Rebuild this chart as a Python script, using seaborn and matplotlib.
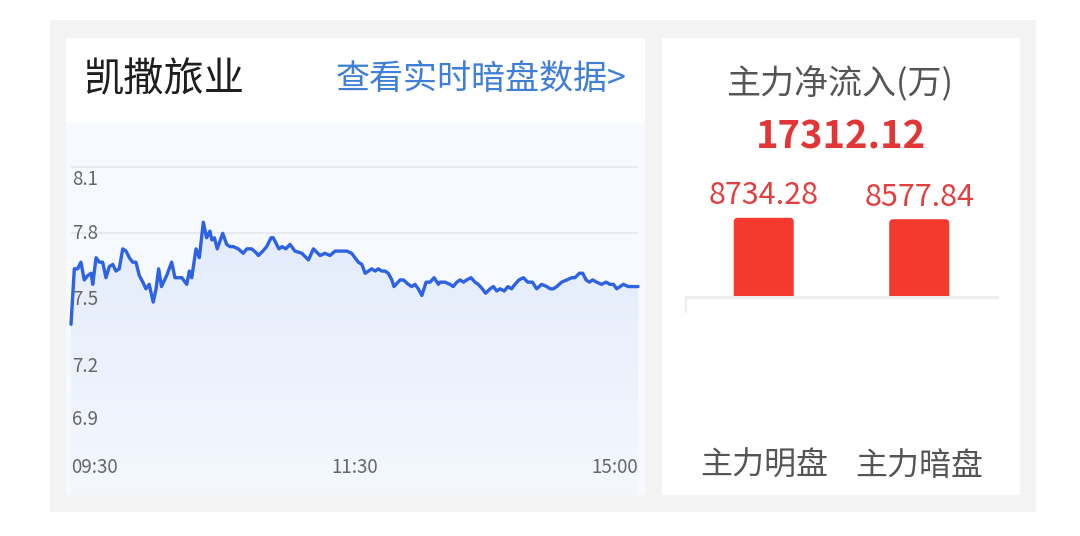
import numpy as np
import pandas as pd
import matplotlib.pyplot as plt
import seaborn as sns
from matplotlib.patches import Rectangle, FancyBboxPatch
from matplotlib.colors import LinearSegmentedColormap

# ---- data ----
stock_name = "凯撒旅业"
link_text = "查看实时暗盘数据>"
time_ticks = [0, 120, 240]
time_labels = ["09:30", "11:30", "15:00"]
price_ticks = [8.1, 7.8, 7.5, 7.2, 6.9]

minutes = [
    0.0, 1.4, 2.8, 4.2, 5.6, 7.1, 8.5, 9.2, 10.6, 12.0, 13.4, 14.8, 16.2, 17.7,
    19.0, 20.4, 21.9, 23.3, 24.7, 26.1, 27.5, 28.9, 30.4, 31.7, 33.1, 34.8, 36.0,
    37.1, 38.3, 40.5, 42.6, 44.0, 45.4, 46.9, 49.0, 50.1, 51.1, 52.9, 54.3, 56.0,
    57.4, 58.8, 59.6, 60.7, 61.9, 64.2, 65.9, 67.3, 68.7, 70.8, 72.9, 74.4, 76.5,
    78.6, 79.3, 81.2, 82.8, 84.7, 85.6, 88.0, 89.4, 90.9, 92.7, 94.8, 97.7, 100.5,
    102.6, 105.4, 107.5, 109.6, 111.8, 113.2, 114.6, 116.7, 118.8, 120.2, 121.6,
    123.1, 124.5, 125.9, 127.3, 128.7, 130.1, 131.5, 132.9, 134.3, 135.8, 136.7,
    139.3, 140.7, 142.8, 144.2, 145.6, 147.0, 148.5, 150.3, 152.0, 153.7, 155.5,
    156.2, 158.3, 160.4, 161.8, 163.3, 164.7, 166.1, 167.5, 169.3, 171.0, 172.4,
    174.1, 175.5, 177.4, 178.8, 180.2, 181.6, 183.4, 184.9, 186.5, 187.9, 189.6,
    191.5, 193.3, 195.3, 197.1, 199.2, 201.4, 202.8, 204.2, 205.6, 207.7, 209.8,
    212.0, 213.3, 215.2, 216.6, 218.0, 219.4, 220.8, 222.5, 224.6, 226.5, 228.1,
    229.6, 231.0, 232.4, 233.8, 235.9, 238.0, 240.0,
]
prices = [
    7.39, 7.64, 7.64, 7.67, 7.59, 7.61, 7.62, 7.57, 7.69, 7.67, 7.67, 7.60, 7.65, 7.66,
    7.63, 7.64, 7.73, 7.72, 7.69, 7.67, 7.67, 7.61, 7.58, 7.55, 7.57, 7.49, 7.55,
    7.64, 7.56, 7.61, 7.67, 7.60, 7.60, 7.60, 7.57, 7.63, 7.60, 7.73, 7.69, 7.85,
    7.78, 7.81, 7.77, 7.78, 7.73, 7.80, 7.75, 7.74, 7.74, 7.73, 7.71, 7.73, 7.73,
    7.71, 7.70, 7.72, 7.74, 7.78, 7.78, 7.73, 7.74, 7.73, 7.75, 7.72, 7.71, 7.68,
    7.73, 7.70, 7.71, 7.70, 7.72, 7.72, 7.72, 7.72, 7.71, 7.69, 7.67,
    7.66, 7.62, 7.63, 7.64, 7.63, 7.64, 7.63, 7.63, 7.62, 7.59, 7.56,
    7.59, 7.59, 7.57, 7.56, 7.57, 7.55, 7.52, 7.58, 7.58, 7.60, 7.57,
    7.58, 7.58, 7.57, 7.56, 7.58, 7.59, 7.58, 7.59, 7.60, 7.58, 7.57,
    7.55, 7.53, 7.55, 7.56, 7.54, 7.55, 7.54, 7.56, 7.55, 7.57, 7.59,
    7.60, 7.58, 7.58, 7.55, 7.57, 7.56, 7.55, 7.55, 7.56, 7.58, 7.59,
    7.60, 7.60, 7.62, 7.62, 7.59, 7.58, 7.59, 7.58, 7.57, 7.58, 7.57,
    7.57, 7.55, 7.56, 7.57, 7.56, 7.56, 7.56,
]

flow_title = "主力净流入(万)"
flow_total = 17312.12
flow_labels = ["主力明盘", "主力暗盘"]
flow_values = [8734.28, 8577.84]

# ---- style ----
sns.set_theme(style="white")
plt.rcParams['font.family'] = ['Noto Sans CJK SC', 'DejaVu Sans']

W, H = 1080, 536
fig = plt.figure(figsize=(W / 100, H / 100), dpi=100)
fig.patch.set_facecolor('white')


def px_axes(x0, y0, x1, y1):
    # axes from pixel box (top-left origin)
    return fig.add_axes([x0 / W, 1 - y1 / H, (x1 - x0) / W, (y1 - y0) / H])


# background card + panels, drawn in pixel coords
bg = fig.add_axes([0, 0, 1, 1])
bg.set_xlim(0, W)
bg.set_ylim(H, 0)
bg.axis('off')
bg.add_patch(Rectangle((50, 20), 986, 492, color='#f3f3f3', lw=0))
bg.add_patch(Rectangle((66, 38), 579, 457, color='white', lw=0))
bg.add_patch(Rectangle((662, 38), 358, 457, color='white', lw=0))

bg.text(84, 80, stock_name, fontsize=29, color='#1e1e1e', va='center', ha='left')
bg.text(627, 80, link_text, fontsize=24.5, color='#3f7fd6', va='center', ha='right')

bg.text(840, 84, flow_title, fontsize=24.5, color='#555555', va='center', ha='center')
bg.text(841, 137, f"{flow_total:.2f}", fontsize=27.5, color='#e23535',
        va='center', ha='center', fontweight='bold')
# small tick at the left end of the bar baseline
bg.plot([686, 686], [298, 312], color='#eeeeee', lw=1.6)

# ---- intraday price line ----
df = pd.DataFrame({'minute': minutes, 'price': prices})
ax = px_axes(66, 123, 645, 495)
ax.set_facecolor('#f6f9fd')
ybot, ytop = 6.621, 8.297

for p in price_ticks:
    ax.hlines(p, 0, 240, color='#e5e9ee', lw=1.2, zorder=0)

grad = np.linspace(0, 1, 256).reshape(-1, 1)
cmap = LinearSegmentedColormap.from_list('fade', ['#f4f8fe', '#e3ebfb'])
im = ax.imshow(grad, extent=[0, 240, ybot, max(prices)], origin='lower',
               aspect='auto', cmap=cmap, zorder=1)
area = ax.fill_between(df.minute, df.price, ybot, color='none', lw=0)
im.set_clip_path(area.get_paths()[0], transform=ax.transData)

sns.lineplot(data=df, x='minute', y='price', ax=ax, color='#2d62e3', lw=2.4, zorder=3)

for p in price_ticks:
    va = 'center'
    dy = 0
    if p == max(price_ticks):
        va, dy = 'top', -0.012
    elif p == min(price_ticks):
        va, dy = 'bottom', 0.015
    ax.text(0.6, p + dy, f"{p:.1f}", fontsize=13.5, color='#666666', va=va, ha='left', zorder=4)

for t, lab in zip(time_ticks, time_labels):
    ha = 'left' if t == time_ticks[0] else ('right' if t == time_ticks[-1] else 'center')
    ax.text(t, 6.745, lab, fontsize=13.5, color='#666666', va='center', ha=ha, zorder=4)

ax.set_xlim(-2.12, 242.96)
ax.set_ylim(ybot, ytop)
ax.set_xlabel('')
ax.set_ylabel('')
ax.set_xticks([])
ax.set_yticks([])
for s in ax.spines.values():
    s.set_visible(False)

# ---- main-force net inflow bars ----
axb = px_axes(686, 140, 997, 297)
axb.patch.set_alpha(0)
sns.barplot(x=flow_labels, y=flow_values, ax=axb, color='#f43a2f', saturation=1,
            width=0.386)
axb.set_xlim(-0.5, 1.5)
axb.set_ylim(0, flow_total)

# swap the plain rectangles for ones with rounded tops
px_x = 1.0 / 155.5
px_y = flow_total / 157.0
for bar in list(axb.patches):
    x0, w, h = bar.get_x(), bar.get_width(), bar.get_height()
    bar.remove()
    rb = FancyBboxPatch((x0, -10 * px_y), w, h + 10 * px_y,
                        boxstyle=f"round,pad=0,rounding_size={4 * px_x}",
                        mutation_aspect=px_y / px_x, fc='#f43a2f', ec='none')
    axb.add_patch(rb)

for i, v in enumerate(flow_values):
    axb.text(i, v + 22 * px_y, f"{v:.2f}", fontsize=22, color='#e04040',
             ha='center', va='center')
    axb.text(i, -169 * px_y, flow_labels[i], fontsize=23, color='#555555',
             ha='center', va='center', clip_on=False)

axb.set_xticks([])
axb.set_yticks([])
axb.set_xlabel('')
axb.set_ylabel('')
for k in ['top', 'right', 'left']:
    axb.spines[k].set_visible(False)
axb.spines['bottom'].set_color('#eeeeee')
axb.spines['bottom'].set_linewidth(2.2)
axb.spines['bottom'].set_zorder(5)

fig.savefig('out.png', dpi=100)
